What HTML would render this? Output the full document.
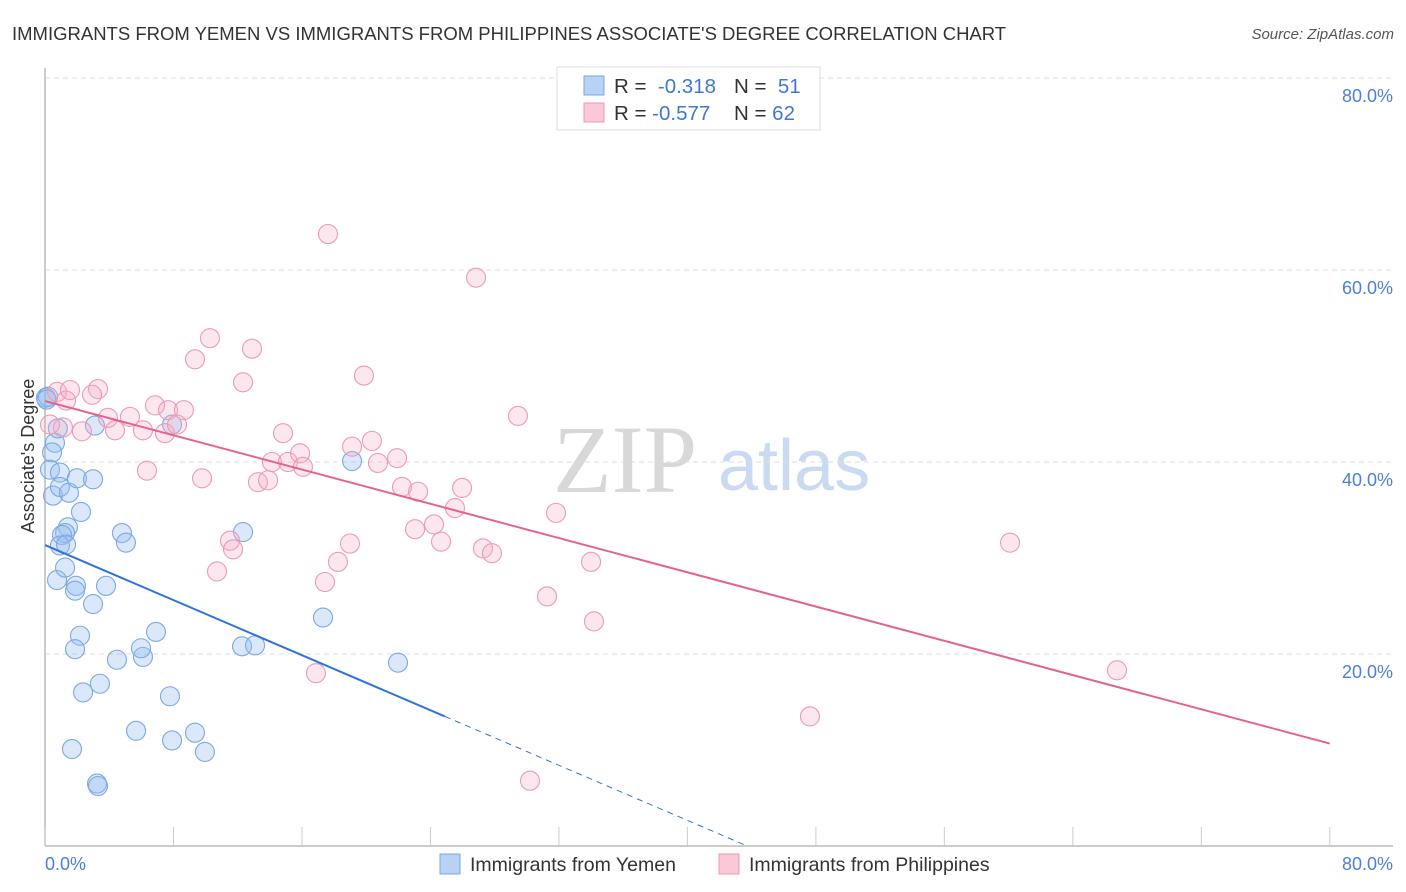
<!DOCTYPE html>
<html><head><meta charset="utf-8"><style>
body{margin:0;background:#fff;font-family:"Liberation Sans",sans-serif;}
svg{display:block}
</style></head><body>
<svg id="c" width="1406" height="892" xmlns="http://www.w3.org/2000/svg">
<text x="12" y="40" font-size="18.5" fill="#333">IMMIGRANTS FROM YEMEN VS IMMIGRANTS FROM PHILIPPINES ASSOCIATE'S DEGREE CORRELATION CHART</text>
<text x="1394" y="39" font-size="15" fill="#555" font-style="italic" text-anchor="end">Source: ZipAtlas.com</text>
<g>
<text x="553" y="492" font-size="96" fill="#d8d8d8" font-family="Liberation Serif, serif">ZIP</text>
<text x="718" y="490" font-size="72" fill="#c9daf2">atlas</text>
</g>
<g id="grid"></g>
<g id="axes"></g>
<g id="pts"></g>
<g id="trend"></g>
<g>
<rect x="557" y="67" width="263" height="63" fill="#fff" stroke="#ddd"/>
<rect x="584" y="76" width="20" height="19" fill="#b8d2f5" stroke="#7aa6e6"/>
<rect x="584" y="103" width="20" height="19" fill="#fac8d7" stroke="#eb9bb5"/>
<text x="614" y="93" font-size="20.5" fill="#333">R = <tspan fill="#3f78d3">&#160;-0.318</tspan><tspan x="734">N = </tspan><tspan fill="#3f78d3">&#160;51</tspan></text>
<text x="614" y="120" font-size="20.5" fill="#333">R = <tspan fill="#3f78d3">-0.577</tspan><tspan x="734">N = </tspan><tspan fill="#3f78d3">62</tspan></text>
</g>
<text transform="translate(34,456) rotate(-90)" font-size="18" fill="#333" text-anchor="middle">Associate's Degree</text>
<text x="45" y="870" font-size="18" fill="#4a7fd4">0.0%</text>
<text x="1393" y="870" font-size="18" fill="#4a7fd4" text-anchor="end">80.0%</text>
<g>
<rect x="440" y="854" width="20" height="20" fill="#b8d2f5" stroke="#7aa6e6"/>
<text x="470" y="871" font-size="19.5" fill="#333">Immigrants from Yemen</text>
<rect x="719" y="854" width="20" height="20" fill="#fac8d7" stroke="#eb9bb5"/>
<text x="749" y="871" font-size="19.5" fill="#333">Immigrants from Philippines</text>
</g>
</svg>
<script>
const yTicks=[20,40,60,80];
const yTickLabels=["20.0%","40.0%","60.0%","80.0%"];
const xTicks=[0,8,16,24,32,40,48,56,64,72,80];
const yemenX=[0.06,0.62,0.44,0.31,0.93,0.5,0.93,1.49,2.24,1.43,1.25,1.06,0.93,1.31,0.75,1.25,1.99,2.99,1.93,1.87,2.99,3.8,2.18,1.87,4.48,6.1,5.98,6.91,4.79,5.04,3.11,7.91,12.33,12.27,13.08,17.31,19.12,21.98,2.37,3.42,7.78,1.68,5.67,7.91,9.34,9.96,3.24,3.3,0.19,0.1,0.8];
const yemenY=[46.7,42.0,41.0,39.2,38.9,36.5,37.4,36.8,34.8,33.2,32.6,32.4,31.3,31.4,27.7,29.0,38.3,38.2,27.1,26.6,25.2,27.1,21.9,20.5,19.4,19.7,20.6,22.3,32.6,31.6,43.8,43.9,32.7,20.8,20.9,23.8,40.1,19.1,16.0,16.9,15.6,10.1,12.0,11.0,11.8,9.8,6.5,6.25,46.8,46.5,43.5];
const philX=[0.75,1.31,1.56,3.3,2.93,1.12,2.3,3.92,4.36,5.29,6.1,6.85,7.66,8.65,7.47,8.22,6.35,9.78,9.34,10.27,12.89,12.33,14.82,14.13,15.13,15.88,16.06,13.26,13.89,17.62,26.84,19.86,20.36,19.12,18.99,17.43,18.24,11.52,11.71,10.71,16.87,21.92,20.73,22.23,23.23,25.97,25.53,23.04,24.22,24.66,27.27,27.83,29.45,31.82,31.26,34.0,34.18,30.2,47.63,60.09,66.75,0.31];
const philY=[47.3,46.4,47.5,47.6,47.0,43.6,43.2,44.6,43.3,44.7,43.3,45.9,45.4,45.4,43.0,43.9,39.1,38.3,50.7,52.9,51.8,48.3,43.0,40.0,40.0,40.9,39.5,37.9,38.1,63.75,59.2,49.0,42.2,41.6,31.5,27.5,29.6,31.8,30.9,28.6,18.0,40.4,39.9,37.4,36.9,37.3,35.2,33.0,33.5,31.7,31.0,30.5,44.8,34.7,26.0,29.6,23.4,6.8,13.5,31.6,18.3,43.9];
const yemenTrend=[31.35,-0.717];
const philTrend=[46.35,-0.446];
const NS="http://www.w3.org/2000/svg";
const sx=v=>45+v*16.06, sy=v=>846-v*9.6;
function mk(tag,attrs,parent){const e=document.createElementNS(NS,tag);for(const k in attrs)e.setAttribute(k,attrs[k]);document.getElementById(parent).appendChild(e);return e;}
yTicks.forEach((t,i)=>{
 const l=mk('line',{x1:45,x2:1393,y1:sy(t),y2:sy(t),stroke:'#ddd','stroke-dasharray':'5,4'},'grid');
 
 
 const tx=mk('text',{x:1393,y:sy(t)+24,'font-size':18,fill:'#4a7fd4','text-anchor':'end'},'grid');
 tx.textContent=yTickLabels[i];
 
 
});
let a=mk('line',{x1:45,x2:45,y1:68,y2:846,stroke:'#bbb','stroke-width':1.5},'axes');


a=mk('line',{x1:45,x2:1393,y1:846,y2:846,stroke:'#bbb','stroke-width':1.5},'axes');


xTicks.forEach(t=>{const l=mk('line',{x1:sx(t),x2:sx(t),y1:827,y2:846,stroke:'#ccc'},'axes');
 
 });
yemenX.forEach((x,i)=>{const c=mk('circle',{cx:sx(x),cy:sy(yemenY[i]),r:9.5,fill:'rgba(150,188,240,0.35)',stroke:'#7ba8e4','stroke-width':1.1},'pts');
 
 });
philX.forEach((x,i)=>{const c=mk('circle',{cx:sx(x),cy:sy(philY[i]),r:9.5,fill:'rgba(246,176,200,0.3)',stroke:'#ec9ab4','stroke-width':1.1},'pts');
 
 });
const yEnd=24.9, yZero=-yemenTrend[0]/yemenTrend[1];
let t=mk('line',{x1:sx(0),y1:sy(yemenTrend[0]),x2:sx(yEnd),y2:sy(yemenTrend[0]+yemenTrend[1]*yEnd),stroke:'#2f74d8','stroke-width':2},'trend');


t=mk('line',{x1:sx(yEnd),y1:sy(yemenTrend[0]+yemenTrend[1]*yEnd),x2:sx(yZero),y2:sy(0),stroke:'#2f74d8','stroke-width':1,'stroke-dasharray':'6,5'},'trend');


t=mk('line',{x1:sx(0),y1:sy(philTrend[0]),x2:sx(80),y2:sy(philTrend[0]+philTrend[1]*80),stroke:'#e4628e','stroke-width':2},'trend');


</script>
</body></html>
